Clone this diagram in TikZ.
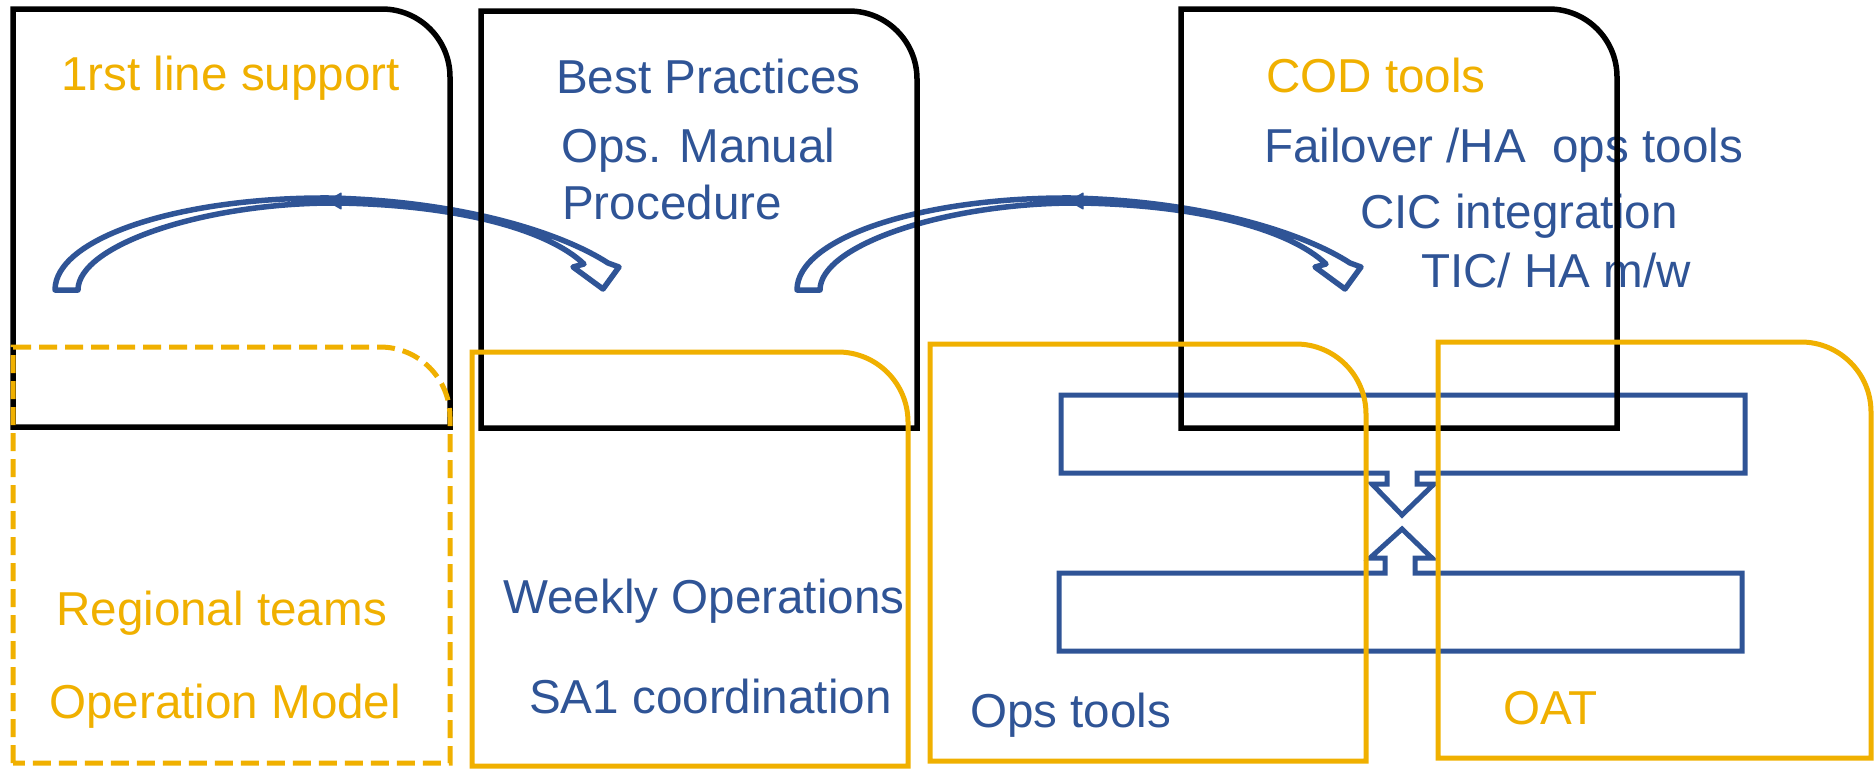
\documentclass[tikz,border=0pt]{standalone}
\usepackage{fontspec}
\setmainfont{Liberation Sans}
\definecolor{ppblue}{RGB}{47,84,150}
\definecolor{pporange}{RGB}{240,176,0}
\newcommand\rcbox[6]{\draw[#1] (#2,#5) -- (#2,#3) -- ({#4-#6},#3) .. controls ({#4-0.448*#6},#3) and (#4,{#3+0.448*#6}) .. (#4,{#3+#6}) -- (#4,#5) -- cycle;}
\begin{document}
\begin{tikzpicture}[x=1pt,y=-1pt,
  lbl/.style={anchor=base west, inner sep=0pt, font=\fontsize{47.6}{56}\selectfont},
  bluetxt/.style={lbl, text=ppblue},
  orgtxt/.style={lbl, text=pporange},
  blackbox/.style={draw=black, line width=5.5pt},
  orgbox/.style={draw=pporange, line width=5pt},
  orgdash/.style={orgbox, dash pattern=on 18pt off 8pt},
  bluebox/.style={draw=ppblue, line width=5pt, line join=miter},
  arrowline/.style={draw=ppblue, fill=white, line width=5.5pt, line join=round},
  notchfill/.style={fill=ppblue, draw=ppblue, line width=1pt, line join=round},
  pics/curvarrow/.style={code={
    \draw[arrowline] (55,290) .. controls (55,238) and (180,197) .. (330,198)
      .. controls (460,201) and (560,232) .. (608,263)
      -- (619,267) -- (603,289) -- (573,267) -- (584,264)
      .. controls (548,230) and (460,205) .. (338,203)
      -- (330,203) .. controls (200,204) and (78,246) .. (78,290) -- cycle;
    \draw[notchfill] (341,193) -- (327,201) -- (341,209) -- cycle;
  }}
]
\useasboundingbox (0,0) rectangle (1876,769);

% texts
\node[orgtxt]  (t1)  at (61,90)   {1rst line support};
\node[bluetxt] (t2)  at (556,93)  {Best Practices};
\node[bluetxt] (t3)  at (561,162) {Ops. Manual};
\node[bluetxt] (t4)  at (562,219) {Procedure};
\node[orgtxt]  (t5)  at (1266,92) {COD tools};
\node[bluetxt] (t6)  at (1264,162) {Failover /HA\ \ ops tools};
\node[bluetxt] (t7)  at (1360,228) {CIC integration};
\node[bluetxt] (t8)  at (1421,287) {TIC/ HA m/w};
\node[orgtxt]  (t9)  at (56,625)  {Regional teams};
\node[orgtxt]  (t10) at (49,718)  {Operation Model};
\node[bluetxt] (t11) at (503,613) {Weekly Operations};
\node[bluetxt] (t12) at (529,713) {SA1 coordination};
\node[bluetxt] (t13) at (970,727) {Ops tools};
\node[orgtxt]  (t14) at (1503,724) {OAT};

% curved block arrows
\pic at (0,0) {curvarrow};
\pic at (742,0) {curvarrow};

% callout rectangles with arrows
\draw[bluebox] (1061,395) -- (1745,395) -- (1745,473) -- (1417,473) -- (1417,484)
  -- (1434,484) -- (1402,515) -- (1372,484) -- (1387,484) -- (1387,473)
  -- (1061,473) -- cycle;
\draw[bluebox] (1059,651) -- (1742,651) -- (1742,573) -- (1415,573) -- (1415,558)
  -- (1432,558) -- (1402,529) -- (1370,558) -- (1385,558) -- (1385,573)
  -- (1059,573) -- cycle;

% black boxes
\rcbox{blackbox}{13}{9}{450}{427}{68}
\rcbox{blackbox}{481}{11}{917}{428}{68}
\rcbox{blackbox}{1181}{9}{1617}{428}{68}

% orange boxes
\rcbox{orgdash}{13}{347}{450}{763}{70}
\rcbox{orgbox}{472}{352}{908}{766}{70}
\rcbox{orgbox}{930}{344}{1366}{761}{70}
\rcbox{orgbox}{1438}{342}{1871}{758}{70}
\end{tikzpicture}
\end{document}
